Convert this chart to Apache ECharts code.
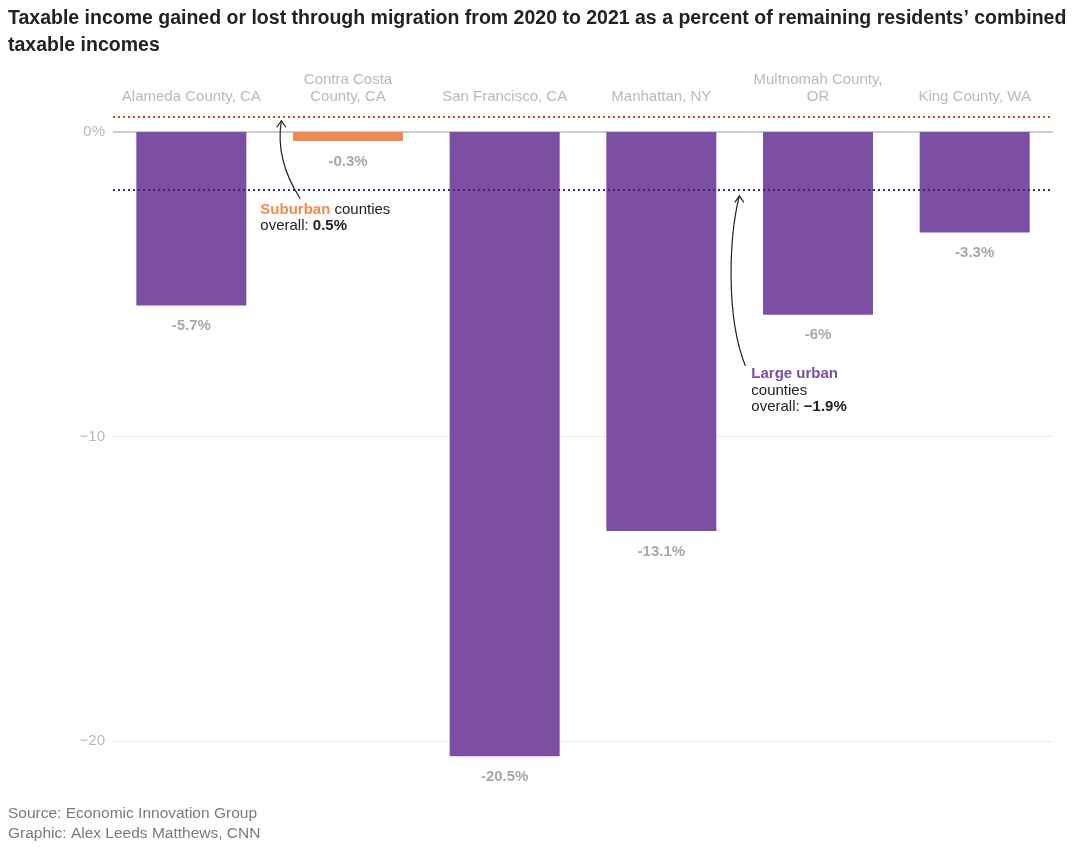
<!DOCTYPE html>
<html>
<head>
<meta charset="utf-8">
<script src="https://cdn.jsdelivr.net/npm/echarts@6/dist/echarts.min.js"></script>
<style>
html,body{margin:0;padding:0;background:#fff;}
#main{width:1075px;height:852px;}
</style>
</head>
<body>
<div id="main"></div>
<script>
// ---- data ----
const categories = ['Alameda County, CA', 'Contra Costa\nCounty, CA', 'San Francisco, CA', 'Manhattan, NY', 'Multnomah County,\nOR', 'King County, WA'];
const values = [-5.7, -0.3, -20.5, -13.1, -6, -3.3];
const groups = ['urban', 'suburban', 'urban', 'urban', 'urban', 'urban'];
const yTicks = [0, -10, -20];
const overallGroups = ['suburban', 'urban'];
const overallValues = [0.5, -1.9];

// ---- styles ----
const FONT = '"Liberation Sans", Arial, Helvetica, sans-serif';
const colors = { urban: '#7b4fa4', suburban: '#f08a52' };
const lineColors = { suburban: '#b4561f', urban: '#4a2270' };

const chart = echarts.init(document.getElementById('main'));

chart.setOption({
  animation: false,
  backgroundColor: '#ffffff',
  textStyle: { fontFamily: FONT },
  title: {
    text: 'Taxable income gained or lost through migration from 2020 to 2021 as a percent of remaining residents\u2019 combined\ntaxable incomes',
    left: 8, top: 5, padding: 0,
    textStyle: { fontFamily: FONT, fontSize: 19.5, fontWeight: 'bold', color: '#222', lineHeight: 27 }
  },
  grid: { left: 113, right: 22, top: 101.5, bottom: 80.5, containLabel: false },
  xAxis: {
    type: 'category',
    position: 'top',
    data: categories,
    axisLine: { show: false },
    axisTick: { show: false },
    axisLabel: { color: '#b9b9b9', fontSize: 15, lineHeight: 17, margin: -4, fontFamily: FONT, interval: 0 }
  },
  yAxis: {
    type: 'value',
    min: -21, max: 1,
    axisLine: { show: false },
    axisTick: { show: false },
    splitLine: { show: false },
    axisLabel: {
      customValues: yTicks,
      color: '#b9b9b9', fontSize: 15, margin: 8, fontFamily: FONT,
      formatter: v => v === 0 ? '0%' : String(v).replace('-', '\u2212')
    }
  },
  series: [
    {
      type: 'line',
      z: 1,
      data: values.map(() => null),
      showSymbol: false,
      silent: true,
      markLine: {
        z: 0,
        silent: true,
        symbol: ['none', 'none'],
        label: { show: false },
        animation: false,
        data: yTicks.map(v => ({ yAxis: v, lineStyle: { color: v === 0 ? '#cccccc' : '#ececec', width: v === 0 ? 2 : 1, type: 'solid' } }))
      }
    },
    {
      type: 'bar',
      z: 2,
      barWidth: 110,
      data: values.map((v, i) => ({ value: v, itemStyle: { color: colors[groups[i]] } })),
      label: {
        show: true,
        position: 'bottom',
        distance: 13,
        color: '#a8a8a8',
        fontWeight: 'bold',
        fontSize: 15,
        fontFamily: FONT,
        formatter: p => p.value + '%'
      },
      markLine: {
        z: 5,
        silent: true,
        symbol: ['none', 'none'],
        label: { show: false },
        animation: false,
        data: overallValues.map((v, i) => ({ yAxis: v, lineStyle: { color: lineColors[overallGroups[i]], width: 2, type: [2, 3] } }))
      }
    }
  ]
});

// ---- annotations (positioned from the axis scale) ----
const ySub = chart.convertToPixel({ yAxisIndex: 0 }, overallValues[0]);
const yUrb = chart.convertToPixel({ yAxisIndex: 0 }, overallValues[1]);
const xA = chart.convertToPixel({ xAxisIndex: 0 }, 0);
const xM = chart.convertToPixel({ xAxisIndex: 0 }, 3);

function arrow(tipX, tipY, path) {
  return [
    { type: 'bezierCurve', shape: path, style: { stroke: '#222', lineWidth: 1.2, fill: null }, z: 10 },
    { type: 'polyline', shape: { points: [[tipX - 4.5, tipY + 6.5], [tipX, tipY], [tipX + 4.5, tipY + 6.5]] }, style: { stroke: '#222', lineWidth: 1.2, fill: null }, z: 10 }
  ];
}

const subTipX = xA + 90, subTipY = ySub + 4;
const urbTipX = xM + 78, urbTipY = yUrb + 6;

chart.setOption({
  graphic: [
    ...arrow(subTipX, subTipY, { x1: subTipX + 19, y1: subTipY + 78, cpx1: subTipX + 2, cpy1: subTipY + 52, cpx2: subTipX - 4, cpy2: subTipY + 25, x2: subTipX, y2: subTipY }),
    ...arrow(urbTipX, urbTipY, { x1: urbTipX + 6, y1: urbTipY + 170, cpx1: urbTipX - 14, cpy1: urbTipY + 120, cpx2: urbTipX - 10, cpy2: urbTipY + 40, x2: urbTipX, y2: urbTipY }),
    {
      type: 'text', left: subTipX - 21, top: ySub + 85, z: 10,
      style: {
        text: '{o|Suburban} counties\noverall: {b|0.5%}',
        font: '15px ' + FONT, fill: '#222', lineHeight: 16,
        rich: {
          o: { fill: colors.suburban, fontWeight: 'bold', fontSize: 15, fontFamily: FONT, lineHeight: 16 },
          b: { fill: '#222', fontWeight: 'bold', fontSize: 15, fontFamily: FONT, lineHeight: 16 }
        }
      }
    },
    {
      type: 'text', left: urbTipX + 12, top: yUrb + 176, z: 10,
      style: {
        text: '{p|Large urban}\ncounties\noverall: {b|\u22121.9%}',
        font: '15px ' + FONT, fill: '#222', lineHeight: 16.5,
        rich: {
          p: { fill: colors.urban, fontWeight: 'bold', fontSize: 15, fontFamily: FONT, lineHeight: 16.5 },
          b: { fill: '#222', fontWeight: 'bold', fontSize: 15, fontFamily: FONT, lineHeight: 16.5 }
        }
      }
    },
    {
      type: 'text', left: 8, top: 804, z: 10,
      style: { text: 'Source: Economic Innovation Group\nGraphic: Alex Leeds Matthews, CNN', font: '15.5px ' + FONT, fill: '#7a7a7a', lineHeight: 20 }
    }
  ]
});
</script>
</body>
</html>
